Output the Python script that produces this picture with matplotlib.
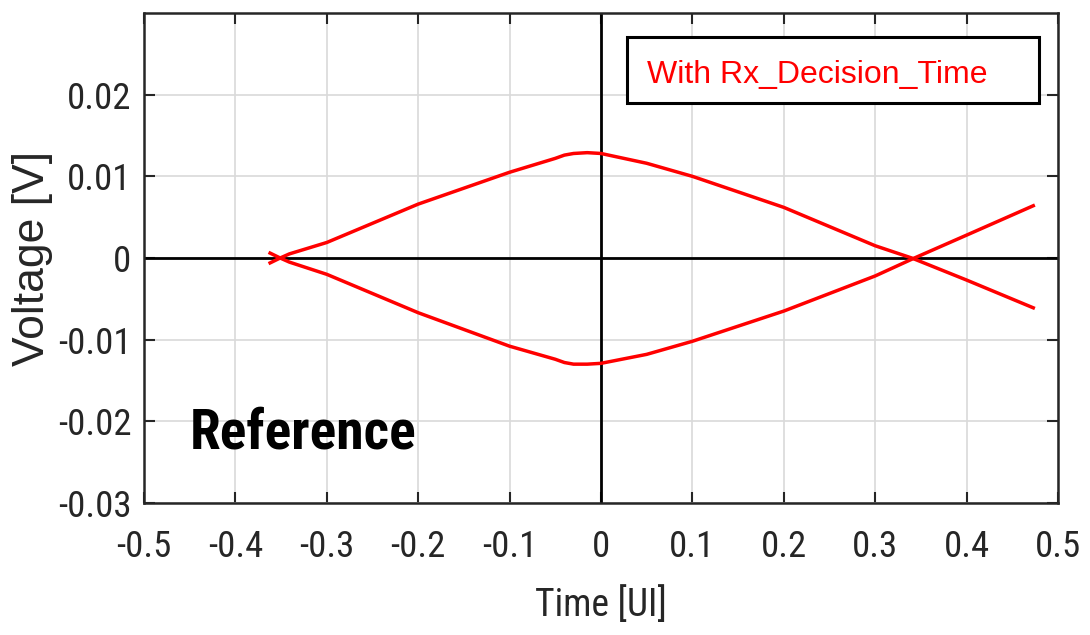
import numpy as np
import matplotlib
matplotlib.use('Agg')
import matplotlib.pyplot as plt
from matplotlib import font_manager
from matplotlib.font_manager import FontProperties
from matplotlib.textpath import TextPath
from matplotlib.patches import Rectangle

# eye contour (Time [UI], Voltage [V])
t_upper = [-0.362, -0.351, -0.341, -0.3, -0.2, -0.1, -0.05, -0.04, -0.03, -0.015, 0.0,
           0.05, 0.1, 0.2, 0.3, 0.34, 0.4, 0.473]
v_upper = [-0.0006, 0.0, 0.0005, 0.0019, 0.0066, 0.0105, 0.0122, 0.0126, 0.0128, 0.0129, 0.0128,
           0.0116, 0.0100, 0.0062, 0.0015, 0.0, -0.0027, -0.0061]
t_lower = [-0.362, -0.351, -0.341, -0.3, -0.2, -0.1, -0.05, -0.04, -0.03, -0.015, 0.0,
           0.05, 0.1, 0.2, 0.3, 0.343, 0.4, 0.473]
v_lower = [0.0006, 0.0, -0.0005, -0.0020, -0.0067, -0.0108, -0.0124, -0.0128, -0.0130, -0.0130, -0.0129,
           -0.0118, -0.0102, -0.0065, -0.0022, 0.0, 0.0028, 0.0064]

x_ticks = [-0.5, -0.4, -0.3, -0.2, -0.1, 0, 0.1, 0.2, 0.3, 0.4, 0.5]
x_labels = ['-0.5', '-0.4', '-0.3', '-0.2', '-0.1', '0', '0.1', '0.2', '0.3', '0.4', '0.5']
y_ticks = [-0.03, -0.02, -0.01, 0, 0.01, 0.02]
y_labels = ['-0.03', '-0.02', '-0.01', '0', '0.01', '0.02']


def have_font(name):
    try:
        font_manager.findfont(FontProperties(family=name), fallback_to_default=False)
        return True
    except ValueError:
        return False


# the reference uses a narrow Helvetica-like face; take the narrowest we have
narrow = [f for f in ['Liberation Sans Narrow', 'Roboto Condensed', 'DejaVu Sans Condensed',
                      'Open Sans Condensed', 'Roboto', 'Liberation Sans'] if have_font(f)][:1] + ['DejaVu Sans']
arial = ['Liberation Sans', 'DejaVu Sans']


def fit_size(s, target_px, family, weight='normal'):
    # font size (pt) that makes the string target_px wide at 100 dpi
    w = TextPath((0, 0), s, size=100, prop=FontProperties(family=family, weight=weight)).get_extents().width
    return 100 * target_px * 0.72 / w


tick_fs = fit_size('-0.03', 70, narrow)
xlab_fs = fit_size('Time [UI]', 128, narrow)
ylab_fs = fit_size('Voltage [V]', 212, arial)
ref_fs = fit_size('Reference', 222, narrow, weight='bold')
txt_col = '#262626'

fig = plt.figure(figsize=(10.9, 6.35), dpi=100)
ax = fig.add_axes([0.1321, 0.2079, 0.8385, 0.7716])

ax.set_xlim(-0.5, 0.5)
ax.set_ylim(-0.03, 0.03)
ax.set_xticks(x_ticks)
ax.set_xticklabels(x_labels, family=narrow, fontsize=tick_fs, color=txt_col)
ax.set_yticks(y_ticks)
ax.set_yticklabels(y_labels, family=narrow, fontsize=tick_fs, color=txt_col)
ax.tick_params(direction='in', length=8, width=1.5, top=True, right=True, colors=txt_col)
ax.tick_params(axis='x', pad=19)
ax.tick_params(axis='y', pad=9)
ax.grid(True, color='#d9d9d9', linewidth=1.2)
ax.set_axisbelow(True)
for s in ax.spines.values():
    s.set_linewidth(1.8)
    s.set_color(txt_col)

ax.axhline(0, color='black', linewidth=2, zorder=2)
ax.axvline(0, color='black', linewidth=2, zorder=2)

ax.plot(t_upper, v_upper, color='#ff0000', linewidth=2.5, zorder=3)
ax.plot(t_lower, v_lower, color='#ff0000', linewidth=2.5, zorder=3)

ax.set_xlabel('Time [UI]', family=narrow, fontsize=xlab_fs, color=txt_col, labelpad=15)
ax.set_ylabel('Voltage [V]', family=arial, fontsize=ylab_fs, color=txt_col)
ax.yaxis.set_label_coords(-0.100, 0.5)

# annotation box
ax.add_patch(Rectangle((0.528, 0.816), 0.451, 0.135, transform=ax.transAxes, facecolor='white',
                       edgecolor='black', linewidth=2.2, zorder=5))
ax.text(0.550, 0.8735, 'With Rx_Decision_Time', transform=ax.transAxes, color='#ff0000',
        fontsize=23, family=arial, va='center', ha='left', zorder=6)

ax.text(0.05, 0.112, 'Reference', transform=ax.transAxes, color='black', fontsize=ref_fs,
        fontweight='bold', family=narrow, va='baseline', ha='left', zorder=6)

fig.savefig('out.png', dpi=100)
